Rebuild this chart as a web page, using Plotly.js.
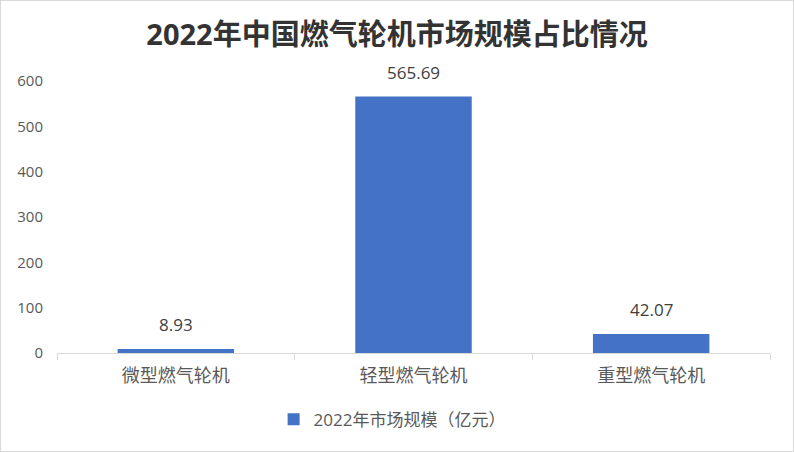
<!DOCTYPE html>
<html>
<head>
<meta charset="utf-8">
<script src="https://cdn.plot.ly/plotly-3.0.1.min.js"></script>
<style>
  html, body { margin: 0; padding: 0; background: #fff; }
  #wrap { width: 794px; height: 452px; box-sizing: border-box; border: 1px solid #d9d9d9; }
  #chart { width: 792px; height: 450px; }
</style>
</head>
<body>
<div id="wrap"><div id="chart"></div></div>
<script>
const categories = ['微型燃气轮机', '轻型燃气轮机', '重型燃气轮机'];
const marketSize = [8.93, 565.69, 42.07];
const yTicks = [0, 100, 200, 300, 400, 500, 600];
const seriesName = '2022年市场规模（亿元）';
const chartTitle = '2022年中国燃气轮机市场规模占比情况';

const fontFamily = '"Open Sans", "Noto Sans CJK SC", sans-serif';

const trace = {
  type: 'bar',
  x: categories,
  y: marketSize,
  name: seriesName,
  marker: { color: '#4472C4' },
  hoverinfo: 'x+y'
};

const labels = categories.map((c, i) => ({
  x: c,
  y: marketSize[i],
  xref: 'x',
  yref: 'y',
  text: marketSize[i].toFixed(2),
  showarrow: false,
  yanchor: 'bottom',
  yshift: 11,
  font: { size: 17, color: '#404040', family: fontFamily }
}));

const layout = {
  width: 792,
  height: 450,
  margin: { l: 56, r: 23, t: 80, b: 98, pad: 0 },
  paper_bgcolor: '#ffffff',
  plot_bgcolor: '#ffffff',
  font: { family: fontFamily, color: '#595959' },
  title: {
    text: '<b>' + chartTitle + '</b>',
    x: 0.5,
    xanchor: 'center',
    y: 0.925,
    yanchor: 'middle',
    font: { size: 29, color: '#333333', family: fontFamily }
  },
  bargap: 0.51,
  showlegend: true,
  legend: {
    orientation: 'h',
    x: 0.47,
    xanchor: 'center',
    y: -0.245,
    yanchor: 'middle',
    font: { size: 17, color: '#595959' }
  },
  xaxis: {
    type: 'category',
    showline: true,
    linecolor: '#d9d9d9',
    linewidth: 1,
    ticks: 'outside',
    tickson: 'boundaries',
    ticklen: 6,
    tickcolor: '#d9d9d9',
    ticklabelstandoff: 6,
    showgrid: false,
    tickfont: { size: 18, color: '#595959' },
    fixedrange: true
  },
  yaxis: {
    range: [0, 600],
    tickvals: yTicks,
    showgrid: false,
    zeroline: false,
    showline: false,
    ticks: 'outside',
    ticklen: 10,
    tickcolor: 'rgba(0,0,0,0)',
    tickfont: { size: 15, color: '#595959' },
    fixedrange: true
  },
  annotations: labels
};

Plotly.newPlot('chart', [trace], layout, { staticPlot: true, displayModeBar: false });
</script>
</body>
</html>
